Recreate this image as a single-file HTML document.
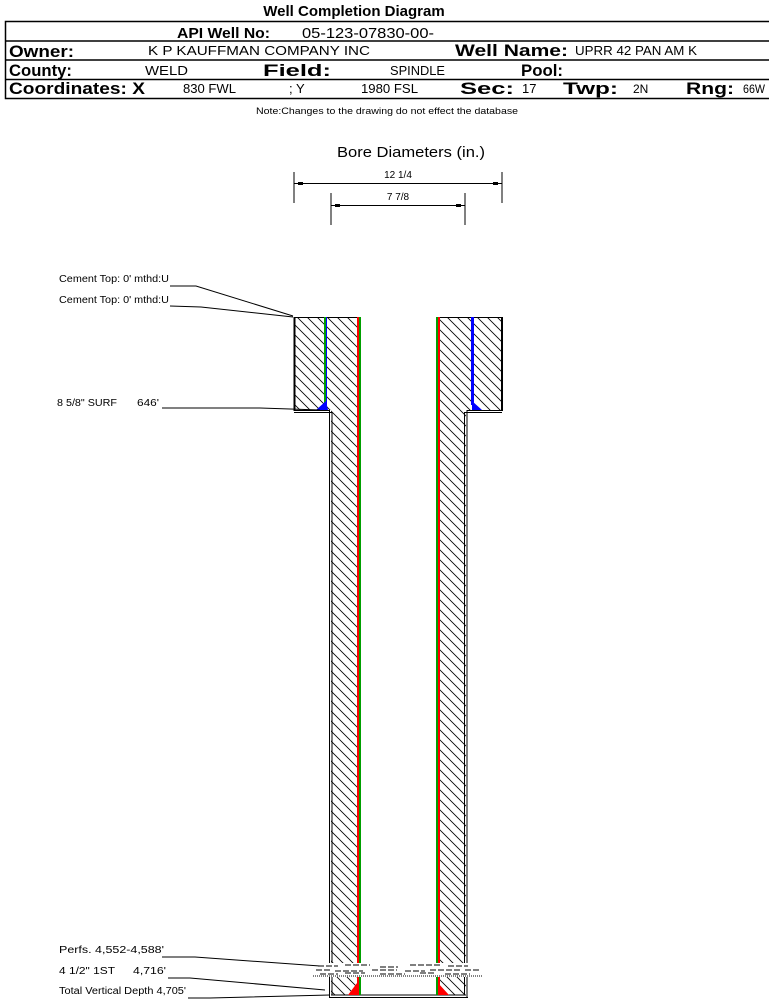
<!DOCTYPE html>
<html><head><meta charset="utf-8"><style>
html,body{margin:0;padding:0;background:#fff;}
svg{display:block;}
text{font-family:"Liberation Sans",sans-serif;fill:#000;}
</style></head><body>
<svg width="769" height="999" viewBox="0 0 769 999" xmlns="http://www.w3.org/2000/svg">
<defs>
<pattern id="h" patternUnits="userSpaceOnUse" width="10" height="10">
<path d="M-1,-1 L11,11 M-1,9 L1,11 M9,-1 L11,1" stroke="#000" stroke-width="0.8"/>
</pattern>
</defs>
<text x="354" y="16" font-size="15" font-weight="bold" text-anchor="middle">Well Completion Diagram</text>
<g stroke="#000" stroke-width="1.5" fill="none">
<rect x="5.5" y="21.5" width="770" height="77"/>
<line x1="5" y1="41" x2="769" y2="41"/>
<line x1="5" y1="60" x2="769" y2="60"/>
<line x1="5" y1="79.5" x2="769" y2="79.5"/>
</g>
<text x="177" y="38" font-size="15" font-weight="bold" textLength="93" lengthAdjust="spacingAndGlyphs">API Well No:</text>
<text x="302" y="38" font-size="15" textLength="132" lengthAdjust="spacingAndGlyphs">05-123-07830-00-</text>
<text x="9" y="57" font-size="17" font-weight="bold" textLength="65" lengthAdjust="spacingAndGlyphs">Owner:</text>
<text x="148" y="55" font-size="13" textLength="222" lengthAdjust="spacingAndGlyphs">K P KAUFFMAN COMPANY INC</text>
<text x="455" y="56" font-size="17" font-weight="bold" textLength="113" lengthAdjust="spacingAndGlyphs">Well Name:</text>
<text x="575" y="55" font-size="13" textLength="122" lengthAdjust="spacingAndGlyphs">UPRR 42 PAN AM K</text>
<text x="9" y="76" font-size="17" font-weight="bold" textLength="63" lengthAdjust="spacingAndGlyphs">County:</text>
<text x="145" y="75" font-size="13" textLength="43" lengthAdjust="spacingAndGlyphs">WELD</text>
<text x="263" y="76" font-size="17" font-weight="bold" textLength="68" lengthAdjust="spacingAndGlyphs">Field:</text>
<text x="390" y="75" font-size="13" textLength="55" lengthAdjust="spacingAndGlyphs">SPINDLE</text>
<text x="521" y="76" font-size="17" font-weight="bold" textLength="42" lengthAdjust="spacingAndGlyphs">Pool:</text>
<text x="9" y="94" font-size="17" font-weight="bold" textLength="136" lengthAdjust="spacingAndGlyphs">Coordinates: X</text>
<text x="183" y="93" font-size="13" textLength="53" lengthAdjust="spacingAndGlyphs">830 FWL</text>
<text x="289" y="93" font-size="13">; Y</text>
<text x="361" y="93" font-size="13" textLength="57" lengthAdjust="spacingAndGlyphs">1980 FSL</text>
<text x="460" y="94" font-size="17" font-weight="bold" textLength="54" lengthAdjust="spacingAndGlyphs">Sec:</text>
<text x="522" y="93" font-size="13">17</text>
<text x="563" y="94" font-size="17" font-weight="bold" textLength="55" lengthAdjust="spacingAndGlyphs">Twp:</text>
<text x="633" y="93" font-size="12">2N</text>
<text x="686" y="94" font-size="17" font-weight="bold" textLength="48" lengthAdjust="spacingAndGlyphs">Rng:</text>
<text x="743" y="93" font-size="12" textLength="22" lengthAdjust="spacingAndGlyphs">66W</text>
<text x="256" y="114" font-size="9" textLength="262" lengthAdjust="spacingAndGlyphs">Note:Changes to the drawing do not effect the database</text>

<text x="337" y="157" font-size="15" textLength="148" lengthAdjust="spacingAndGlyphs">Bore Diameters (in.)</text>
<g stroke="#000" stroke-width="1">
<line x1="294" y1="172" x2="294" y2="203"/><line x1="502" y1="172" x2="502" y2="203"/>
<line x1="294" y1="183.5" x2="502" y2="183.5"/>
<line x1="331" y1="193" x2="331" y2="225"/><line x1="465" y1="193" x2="465" y2="225"/>
<line x1="331" y1="205.5" x2="465" y2="205.5"/>
</g>
<g fill="#000"><rect x="298" y="182" width="5" height="3"/><rect x="493" y="182" width="5" height="3"/>
<rect x="335" y="204" width="5" height="3"/><rect x="456" y="204" width="5" height="3"/></g>
<text x="398" y="178" font-size="10" text-anchor="middle">12 1/4</text>
<text x="398" y="200" font-size="10" text-anchor="middle">7 7/8</text>

<rect x="294" y="317" width="64" height="93" fill="url(#h)"/>
<rect x="331" y="410" width="27" height="585" fill="url(#h)"/>
<rect x="438" y="317" width="64" height="93" fill="url(#h)"/>
<rect x="438" y="410" width="28" height="585" fill="url(#h)"/>
<g stroke="#000" fill="none">
<line x1="294.5" y1="317" x2="294.5" y2="411" stroke-width="2"/>
<line x1="294" y1="317.5" x2="358" y2="317.5"/>
<line x1="438" y1="317.5" x2="502" y2="317.5"/>
<line x1="502" y1="317" x2="502" y2="411" stroke-width="2"/>
<polyline points="294,410.5 329.5,410.5 329.5,997"/>
<polyline points="294,412.5 332,412.5 332,995"/>
<polyline points="502,410.5 467,410.5 467,997"/>
<polyline points="502,412.5 464.5,412.5 464.5,995"/>
<line x1="329" y1="997.5" x2="468" y2="997.5"/>
<line x1="331" y1="995" x2="466" y2="995"/>
</g>
<rect x="324" y="317" width="2" height="88" fill="#00a000"/>
<rect x="326" y="317" width="1" height="88" fill="#0000ff"/>
<polygon points="316,410 326,401 328,410" fill="#0000ff"/>
<rect x="471" y="317" width="3" height="88" fill="#0000ff"/>
<polygon points="472,401 472,410 482,410" fill="#0000ff"/>
<rect x="357" y="317" width="2" height="678" fill="#ff0000"/>
<rect x="359" y="317" width="2" height="678" fill="#00a000"/>
<rect x="436" y="317" width="2" height="678" fill="#00a000"/>
<rect x="438" y="317" width="2" height="678" fill="#ff0000"/>
<polygon points="348,995 357,983 359,995" fill="#ff0000"/>
<polygon points="438,983 438,995 449,995" fill="#ff0000"/>
<rect x="313" y="963" width="170" height="14" fill="#fff"/>
<g stroke="#000" stroke-width="1">
<path d="M318,966h20 M345,965h25 M380,967h18 M410,965h30 M448,966h20 M316,970h15 M335,971h28 M372,970h25 M405,971h20 M430,970h30 M465,970h15 M320,974h18 M345,973h20 M380,974h25 M420,973h15 M445,974h25" stroke-dasharray="6,2"/>
<path d="M313,976h170" stroke-dasharray="1,1"/>
</g>
<g font-size="10">
<text x="59" y="282" textLength="110" lengthAdjust="spacingAndGlyphs">Cement Top: 0' mthd:U</text>
<text x="59" y="303" textLength="110" lengthAdjust="spacingAndGlyphs">Cement Top: 0' mthd:U</text>
<text x="57" y="406" textLength="60" lengthAdjust="spacingAndGlyphs">8 5/8" SURF</text>
<text x="137" y="406" textLength="22" lengthAdjust="spacingAndGlyphs">646'</text>
<text x="59" y="953" textLength="105" lengthAdjust="spacingAndGlyphs">Perfs. 4,552-4,588'</text>
<text x="59" y="974" textLength="56" lengthAdjust="spacingAndGlyphs">4 1/2" 1ST</text>
<text x="133" y="974" textLength="33" lengthAdjust="spacingAndGlyphs">4,716'</text>
<text x="59" y="994" textLength="127" lengthAdjust="spacingAndGlyphs">Total Vertical Depth 4,705'</text>
</g>
<g stroke="#000" stroke-width="1" fill="none">
<polyline points="170,286 196,286 293,316"/>
<polyline points="170,306 201,307 293,317"/>
<polyline points="162,408 260,408 320,410"/>
<polyline points="162,957 195,957 320,966"/>
<polyline points="168,978 190,978 325,990"/>
<polyline points="188,998 210,998 330,995"/>
</g>
</svg>
</body></html>
